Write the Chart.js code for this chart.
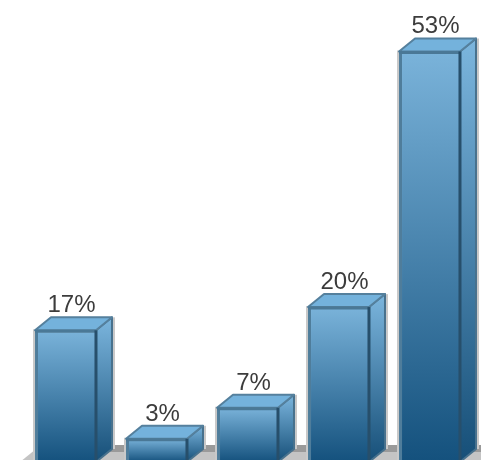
<!DOCTYPE html>
<html>
<head>
<meta charset="utf-8">
<title>Share by group</title>
<script src="https://cdn.jsdelivr.net/npm/chart.js@4/dist/chart.umd.min.js"></script>
<style>
  html, body { margin: 0; padding: 0; background: #fff; overflow: hidden; height: 460px; }
  canvas { display: block; }
</style>
</head>
<body>
<canvas id="chart" width="481" height="470"></canvas>
<script>
'use strict'

const categories = ['A', 'B', 'C', 'D', 'E']
const shares = [17, 3, 7, 20, 53]

const DEPTH_X = 16
const DEPTH_Y = 13

function polygon (ctx, points) {
  ctx.beginPath()
  points.forEach(([x, y], i) => (i ? ctx.lineTo(x, y) : ctx.moveTo(x, y)))
  ctx.closePath()
}

function verticalGradient (ctx, top, bottom, from, to) {
  const gradient = ctx.createLinearGradient(0, top, 0, bottom)
  gradient.addColorStop(0, from)
  gradient.addColorStop(1, to)
  return gradient
}

// floor under the bars, with a darker strip along its back edge
const floorPlugin = {
  id: 'floor',
  beforeDatasetsDraw (chart) {
    const { ctx, chartArea, scales } = chart
    const base = scales.y.getPixelForValue(0)
    ctx.save()
    ctx.fillStyle = '#c4c4c4'
    polygon(ctx, [
      [chartArea.left, base],
      [chartArea.left + DEPTH_X, base - DEPTH_Y],
      [chart.width + DEPTH_X, base - DEPTH_Y],
      [chart.width, base]
    ])
    ctx.fill()
    ctx.fillStyle = '#9a9a9a'
    polygon(ctx, [
      [chartArea.left + DEPTH_X, base - DEPTH_Y],
      [chartArea.left + DEPTH_X + 5, base - DEPTH_Y - 4],
      [chart.width + DEPTH_X, base - DEPTH_Y - 4],
      [chart.width + DEPTH_X, base - DEPTH_Y + 3],
      [chartArea.left + DEPTH_X - 3, base - DEPTH_Y + 3]
    ])
    ctx.fill()
    ctx.restore()
  }
}

// side and top faces of each bar plus the share label above it
const boxPlugin = {
  id: 'box',
  afterDatasetsDraw (chart) {
    const { ctx } = chart
    const base = chart.scales.y.getPixelForValue(0)
    chart.getDatasetMeta(0).data.forEach((bar, i) => {
      const left = bar.x - bar.width / 2
      const right = bar.x + bar.width / 2
      const top = bar.y

      ctx.save()
      // soft grey edge left of the front face and right of the side face
      ctx.fillStyle = '#c9c9c9'
      ctx.fillRect(left - 2, top - 1, 2, base - top + 1)
      polygon(ctx, [
        [right + DEPTH_X, top - DEPTH_Y],
        [right + DEPTH_X + 3, top - DEPTH_Y],
        [right + DEPTH_X + 3, base - DEPTH_Y],
        [right + DEPTH_X, base - DEPTH_Y]
      ])
      ctx.fill()

      ctx.lineJoin = 'round'
      ctx.lineWidth = 2

      polygon(ctx, [
        [right, top],
        [right + DEPTH_X, top - DEPTH_Y],
        [right + DEPTH_X, base - DEPTH_Y],
        [right, base]
      ])
      ctx.fillStyle = verticalGradient(ctx, top - DEPTH_Y, base, '#7cb6de', '#164f78')
      ctx.fill()
      ctx.strokeStyle = '#47718d'
      ctx.stroke()

      polygon(ctx, [
        [left, top],
        [left + DEPTH_X, top - DEPTH_Y],
        [right + DEPTH_X, top - DEPTH_Y],
        [right, top]
      ])
      ctx.fillStyle = '#74b2dc'
      ctx.fill()
      ctx.strokeStyle = '#55809d'
      ctx.stroke()

      // heavier front edges: along the top and down the seam with the side face
      ctx.lineWidth = 3
      ctx.beginPath()
      ctx.moveTo(left, top + 1)
      ctx.lineTo(right, top + 1)
      ctx.strokeStyle = '#4a7896'
      ctx.stroke()
      ctx.beginPath()
      ctx.moveTo(right, top)
      ctx.lineTo(right, base)
      ctx.strokeStyle = '#274f6b'
      ctx.stroke()

      ctx.fillStyle = '#3c3c3c'
      ctx.font = '24px "Liberation Sans", sans-serif'
      ctx.textAlign = 'center'
      ctx.textBaseline = 'alphabetic'
      ctx.fillText(shares[i] + '%', bar.x + 6, top - DEPTH_Y - 5)
      ctx.restore()
    })
  }
}

new Chart(document.getElementById('chart'), {
  type: 'bar',
  data: {
    labels: categories,
    datasets: [
      {
        data: shares,
        barPercentage: 0.67,
        categoryPercentage: 1,
        borderWidth: { left: 3, top: 2, right: 0, bottom: 0 },
        borderColor: '#4f7d9b',
        backgroundColor: (context) => {
          const { chart } = context
          const bar = chart.getDatasetMeta(0).data[context.dataIndex]
          if (!bar || !chart.chartArea) return '#4d87ad'
          const base = chart.scales.y.getPixelForValue(0)
          const top = chart.scales.y.getPixelForValue(shares[context.dataIndex])
          return verticalGradient(chart.ctx, top, base, '#7ab3da', '#14517d')
        }
      }
    ]
  },
  options: {
    responsive: false,
    animation: false,
    layout: {
      padding: { left: 20, right: 6, top: 36, bottom: 8 }
    },
    plugins: {
      legend: { display: false },
      tooltip: { enabled: false }
    },
    scales: {
      x: { display: false },
      y: { display: false, min: 0, max: 55 }
    }
  },
  plugins: [floorPlugin, boxPlugin]
})
</script>
</body>
</html>
